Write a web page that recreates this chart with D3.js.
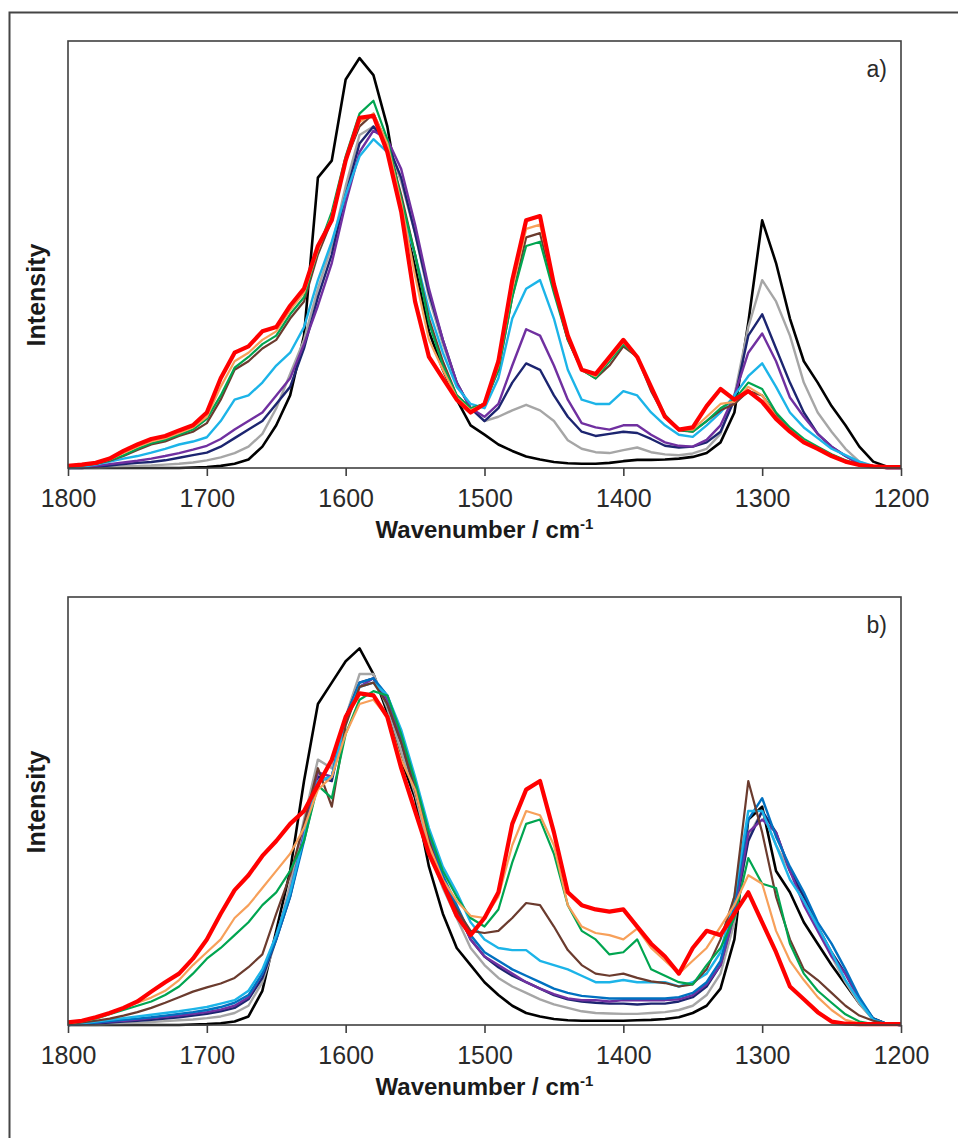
<!DOCTYPE html>
<html>
<head>
<meta charset="utf-8">
<script src="https://cdn.jsdelivr.net/npm/d3@7"></script>
<style>
  body { margin: 0; background: #fff; }
  svg { display: block; }
</style>
</head>
<body>
<script>

// wavenumber grid, 1800 -> 1200 cm-1 in 10 cm-1 steps
var wavenumbers = [1800,1790,1780,1770,1760,1750,1740,1730,1720,1710,
  1700,1690,1680,1670,1660,1650,1640,1630,1620,1610,
  1600,1590,1580,1570,1560,1550,1540,1530,1520,1510,
  1500,1490,1480,1470,1460,1450,1440,1430,1420,1410,
  1400,1390,1380,1370,1360,1350,1340,1330,1320,1310,
  1300,1290,1280,1270,1260,1250,1240,1230,1220,1210,1200];

var tickLabels = [1800, 1700, 1600, 1500, 1400, 1300, 1200];
var panelLabels = ["a)", "b)"];

// ---- panel a ----
var aBlack = [0,0,0,0,0,0,0,0,0,0.001,
  0.002,0.005,0.01,0.02,0.05,0.1,0.17,0.31,0.68,0.72,
  0.91,0.96,0.92,0.8,0.61,0.47,0.32,0.23,0.16,0.1,
  0.078,0.055,0.04,0.027,0.02,0.014,0.011,0.01,0.01,0.012,
  0.016,0.019,0.019,0.02,0.022,0.026,0.035,0.06,0.13,0.34,
  0.58,0.48,0.35,0.25,0.2,0.145,0.1,0.05,0.015,0.003,0.001];
var aGray = [0,0,0,0.002,0.004,0.005,0.006,0.008,0.01,0.013,
  0.018,0.025,0.035,0.05,0.08,0.14,0.22,0.3,0.42,0.52,
  0.66,0.78,0.8,0.76,0.67,0.55,0.4,0.29,0.2,0.14,
  0.11,0.12,0.135,0.148,0.135,0.11,0.065,0.045,0.037,0.035,
  0.042,0.048,0.037,0.032,0.03,0.034,0.045,0.08,0.17,0.33,
  0.44,0.39,0.31,0.2,0.13,0.085,0.045,0.015,0.002,0,0];
var aNavy = [0,0,0.003,0.006,0.009,0.012,0.014,0.018,0.024,0.03,
  0.036,0.05,0.07,0.09,0.11,0.15,0.19,0.28,0.4,0.5,
  0.64,0.76,0.8,0.76,0.68,0.55,0.41,0.3,0.2,0.14,
  0.11,0.14,0.2,0.245,0.23,0.17,0.12,0.085,0.075,0.08,
  0.085,0.082,0.068,0.052,0.048,0.05,0.06,0.085,0.16,0.31,
  0.36,0.28,0.2,0.13,0.08,0.05,0.028,0.01,0.003,0,0];
var aPurple = [0,0.002,0.005,0.009,0.013,0.017,0.022,0.028,0.035,0.043,
  0.052,0.068,0.09,0.11,0.13,0.17,0.21,0.29,0.38,0.48,
  0.62,0.74,0.79,0.77,0.7,0.57,0.42,0.3,0.2,0.14,
  0.12,0.15,0.24,0.325,0.31,0.24,0.16,0.105,0.095,0.09,
  0.1,0.1,0.078,0.06,0.052,0.05,0.066,0.1,0.17,0.27,
  0.315,0.25,0.165,0.12,0.08,0.05,0.028,0.01,0.003,0,0];
var aCyan = [0,0.003,0.008,0.015,0.022,0.028,0.036,0.045,0.055,0.062,
  0.072,0.11,0.16,0.17,0.2,0.24,0.27,0.33,0.44,0.53,
  0.64,0.73,0.77,0.74,0.6,0.5,0.37,0.27,0.19,0.15,
  0.14,0.21,0.35,0.42,0.44,0.35,0.23,0.16,0.15,0.15,
  0.18,0.17,0.13,0.1,0.078,0.073,0.1,0.13,0.17,0.215,
  0.245,0.19,0.13,0.095,0.07,0.045,0.03,0.015,0.005,0.001,0];
var aBrown = [0.003,0.006,0.01,0.017,0.028,0.042,0.055,0.062,0.075,0.085,
  0.105,0.16,0.23,0.25,0.28,0.3,0.35,0.39,0.5,0.58,
  0.72,0.8,0.83,0.76,0.64,0.5,0.35,0.25,0.17,0.14,
  0.15,0.23,0.4,0.54,0.55,0.42,0.3,0.23,0.21,0.24,
  0.285,0.26,0.18,0.12,0.088,0.085,0.11,0.135,0.15,0.18,
  0.17,0.125,0.09,0.065,0.048,0.03,0.017,0.007,0.003,0.001,0];
var aGreen = [0.003,0.006,0.01,0.018,0.03,0.045,0.058,0.066,0.078,0.09,
  0.115,0.17,0.235,0.26,0.29,0.31,0.36,0.4,0.51,0.6,
  0.73,0.83,0.86,0.77,0.63,0.5,0.34,0.24,0.17,0.14,
  0.15,0.23,0.4,0.52,0.53,0.41,0.3,0.23,0.21,0.25,
  0.29,0.26,0.19,0.125,0.09,0.085,0.11,0.14,0.16,0.2,
  0.185,0.13,0.095,0.068,0.05,0.032,0.018,0.008,0.003,0.001,0];
var aOrange = [0.004,0.007,0.011,0.02,0.035,0.05,0.062,0.07,0.082,0.095,
  0.12,0.19,0.25,0.27,0.3,0.32,0.37,0.41,0.51,0.59,
  0.72,0.81,0.83,0.76,0.62,0.45,0.3,0.23,0.165,0.135,
  0.15,0.24,0.42,0.56,0.57,0.43,0.31,0.23,0.215,0.255,
  0.295,0.26,0.19,0.12,0.09,0.09,0.12,0.15,0.155,0.19,
  0.17,0.12,0.088,0.063,0.046,0.03,0.016,0.007,0.003,0.001,0];
var aRed = [0.005,0.008,0.012,0.022,0.04,0.055,0.068,0.075,0.088,0.1,
  0.13,0.21,0.27,0.285,0.32,0.33,0.38,0.42,0.52,0.58,
  0.72,0.82,0.825,0.74,0.6,0.39,0.26,0.21,0.16,0.13,
  0.15,0.25,0.44,0.58,0.59,0.43,0.31,0.23,0.22,0.26,
  0.3,0.26,0.19,0.12,0.09,0.095,0.145,0.185,0.16,0.18,
  0.155,0.115,0.085,0.06,0.045,0.028,0.015,0.007,0.004,0.002,0.002];

// ---- panel b ----
var bBlack = [0,0,0,0,0,0,0,0,0,0.001,
  0.002,0.004,0.008,0.02,0.08,0.22,0.36,0.57,0.75,0.8,
  0.85,0.88,0.82,0.73,0.62,0.53,0.37,0.26,0.18,0.14,
  0.1,0.07,0.045,0.028,0.02,0.014,0.011,0.01,0.01,0.01,
  0.01,0.011,0.012,0.014,0.018,0.028,0.045,0.085,0.2,0.48,
  0.51,0.36,0.31,0.24,0.19,0.14,0.095,0.05,0.015,0.002,0];
var bGray = [0,0,0,0.002,0.004,0.005,0.007,0.009,0.011,0.013,
  0.016,0.02,0.028,0.045,0.1,0.2,0.33,0.48,0.62,0.6,
  0.72,0.82,0.82,0.74,0.64,0.54,0.41,0.32,0.25,0.18,
  0.14,0.11,0.09,0.075,0.06,0.048,0.04,0.032,0.028,0.027,
  0.026,0.026,0.028,0.03,0.035,0.045,0.07,0.12,0.24,0.44,
  0.5,0.42,0.36,0.3,0.23,0.16,0.1,0.05,0.012,0.002,0];
var bNavy = [0,0.002,0.004,0.006,0.008,0.01,0.012,0.015,0.018,0.022,
  0.026,0.032,0.04,0.06,0.11,0.2,0.3,0.44,0.58,0.57,
  0.72,0.8,0.81,0.75,0.66,0.55,0.43,0.34,0.27,0.2,
  0.16,0.135,0.115,0.1,0.085,0.07,0.06,0.055,0.052,0.05,
  0.05,0.048,0.05,0.05,0.055,0.065,0.09,0.14,0.26,0.43,
  0.5,0.45,0.36,0.3,0.23,0.17,0.12,0.06,0.015,0.002,0];
var bPurple = [0,0.003,0.005,0.008,0.01,0.013,0.016,0.019,0.022,0.026,
  0.03,0.036,0.045,0.065,0.12,0.21,0.31,0.45,0.59,0.58,
  0.72,0.79,0.81,0.76,0.67,0.56,0.44,0.34,0.27,0.2,
  0.16,0.14,0.12,0.1,0.085,0.072,0.062,0.058,0.058,0.055,
  0.058,0.058,0.058,0.058,0.06,0.07,0.095,0.14,0.26,0.45,
  0.48,0.45,0.36,0.28,0.22,0.16,0.12,0.06,0.012,0.002,0];
var bBlue = [0,0.003,0.006,0.009,0.012,0.015,0.018,0.022,0.026,0.03,
  0.035,0.042,0.052,0.07,0.12,0.2,0.3,0.43,0.57,0.58,
  0.72,0.8,0.81,0.77,0.68,0.57,0.45,0.35,0.28,0.21,
  0.17,0.15,0.13,0.115,0.1,0.085,0.075,0.068,0.065,0.062,
  0.062,0.062,0.062,0.062,0.065,0.075,0.1,0.15,0.28,0.48,
  0.53,0.44,0.37,0.31,0.24,0.19,0.13,0.065,0.015,0.002,0];
var bCyan = [0,0.004,0.008,0.012,0.016,0.02,0.024,0.028,0.032,0.037,
  0.042,0.05,0.058,0.08,0.13,0.21,0.31,0.44,0.57,0.58,
  0.71,0.79,0.8,0.77,0.69,0.58,0.46,0.37,0.31,0.24,
  0.2,0.18,0.175,0.175,0.15,0.14,0.13,0.115,0.1,0.1,
  0.105,0.1,0.1,0.1,0.09,0.1,0.12,0.17,0.3,0.5,
  0.5,0.42,0.34,0.29,0.23,0.17,0.105,0.055,0.012,0.002,0];
var bBrown = [0.002,0.006,0.01,0.015,0.022,0.03,0.04,0.052,0.065,0.078,
  0.088,0.097,0.11,0.135,0.165,0.26,0.35,0.47,0.6,0.51,
  0.7,0.79,0.8,0.75,0.66,0.55,0.43,0.33,0.27,0.22,
  0.215,0.22,0.25,0.285,0.28,0.23,0.175,0.14,0.12,0.115,
  0.12,0.11,0.102,0.098,0.09,0.095,0.13,0.2,0.3,0.57,
  0.45,0.3,0.2,0.13,0.105,0.075,0.045,0.022,0.01,0.003,0];
var bGreen = [0.003,0.008,0.015,0.025,0.035,0.045,0.055,0.07,0.09,0.12,
  0.155,0.18,0.21,0.24,0.28,0.31,0.36,0.43,0.56,0.53,
  0.68,0.76,0.78,0.77,0.68,0.57,0.45,0.36,0.3,0.25,
  0.23,0.27,0.38,0.47,0.48,0.4,0.28,0.22,0.2,0.165,
  0.17,0.2,0.13,0.115,0.1,0.095,0.14,0.18,0.25,0.39,
  0.33,0.32,0.19,0.12,0.08,0.052,0.025,0.008,0.002,0,0];
var bOrange = [0.004,0.009,0.016,0.027,0.04,0.052,0.064,0.08,0.105,0.14,
  0.17,0.2,0.25,0.28,0.32,0.36,0.4,0.46,0.55,0.58,
  0.68,0.75,0.76,0.72,0.62,0.55,0.42,0.34,0.29,0.255,
  0.25,0.3,0.42,0.5,0.49,0.42,0.28,0.23,0.215,0.21,
  0.2,0.225,0.18,0.15,0.12,0.15,0.18,0.23,0.28,0.35,
  0.33,0.22,0.15,0.105,0.065,0.035,0.012,0.004,0.001,0,0];
var bRed = [0.006,0.01,0.018,0.028,0.04,0.055,0.078,0.1,0.12,0.155,
  0.2,0.26,0.315,0.35,0.395,0.43,0.47,0.5,0.56,0.62,
  0.72,0.775,0.77,0.72,0.6,0.5,0.4,0.33,0.255,0.21,
  0.25,0.31,0.47,0.55,0.57,0.45,0.31,0.28,0.27,0.265,
  0.27,0.23,0.19,0.16,0.12,0.18,0.22,0.21,0.26,0.31,
  0.24,0.17,0.09,0.06,0.03,0.008,0.003,0.002,0.002,0.002,0.002];

var colBlack = "#000000", colGray = "#a6a6a6", colNavy = "#1c2570",
    colPurple = "#7030a0", colBlue = "#0070c0", colCyan = "#1cb4e8",
    colBrown = "#6b3b2e", colGreen = "#00a550", colOrange = "#f7a05a",
    colRed = "#ff0000";

var panelA = [
  {v: aBlack, c: colBlack, w: 2.6},
  {v: aGray, c: colGray, w: 2.4},
  {v: aNavy, c: colNavy, w: 2.4},
  {v: aPurple, c: colPurple, w: 2.4},
  {v: aCyan, c: colCyan, w: 2.4},
  {v: aBrown, c: colBrown, w: 2.2},
  {v: aGreen, c: colGreen, w: 2.2},
  {v: aOrange, c: colOrange, w: 2.2},
  {v: aRed, c: colRed, w: 4.2}
];
var panelB = [
  {v: bBlack, c: colBlack, w: 2.6},
  {v: bGray, c: colGray, w: 2.4},
  {v: bNavy, c: colNavy, w: 2.4},
  {v: bPurple, c: colPurple, w: 2.4},
  {v: bBlue, c: colBlue, w: 2.4},
  {v: bCyan, c: colCyan, w: 2.4},
  {v: bBrown, c: colBrown, w: 2.2},
  {v: bGreen, c: colGreen, w: 2.2},
  {v: bOrange, c: colOrange, w: 2.2},
  {v: bRed, c: colRed, w: 4.2}
];

var svg = d3.select("body").append("svg")
    .attr("width", 958)
    .attr("height", 1138);

// outer frame (left and top edges visible)
svg.append("path")
    .attr("d", "M9.5,1138 V12.5 H958")
    .attr("fill", "none")
    .attr("stroke", "#454545")
    .attr("stroke-width", 2);

var left = 68, right = 901;
var x = d3.scaleLinear().domain([1800, 1200]).range([left, right]);

function drawPanel(series, top, bottom, label, labelY) {
  var y = d3.scaleLinear().domain([0, 1]).range([bottom, top]);
  var g = svg.append("g");

  var line = d3.line()
      .x(function(d, i) { return x(wavenumbers[i]); })
      .y(function(d) { return y(d); });

  g.selectAll("path.spec")
      .data(series)
      .enter().append("path")
      .attr("class", "spec")
      .attr("d", function(s) { return line(s.v); })
      .attr("fill", "none")
      .attr("stroke", function(s) { return s.c; })
      .attr("stroke-width", function(s) { return s.w; })
      .attr("stroke-linejoin", "round");

  g.append("rect")
      .attr("x", left).attr("y", top)
      .attr("width", right - left).attr("height", bottom - top)
      .attr("fill", "none")
      .attr("stroke", "#404040")
      .attr("stroke-width", 1.6);

  var axis = d3.axisBottom(x)
      .tickValues(tickLabels)
      .tickSize(8)
      .tickSizeOuter(0)
      .tickFormat(d3.format("d"));

  var ax = g.append("g")
      .attr("transform", "translate(0," + bottom + ")")
      .call(axis);
  ax.select(".domain").remove();
  ax.selectAll(".tick line").attr("stroke", "#404040").attr("stroke-width", 1.6);
  ax.selectAll(".tick text")
      .attr("font-family", "'Liberation Sans', Arial, sans-serif")
      .attr("font-size", "25px")
      .attr("fill", "#2a2a2a")
      .attr("dy", null)
      .attr("y", 39);

  var title = g.append("text")
      .attr("x", (left + right) / 2)
      .attr("y", bottom + 70)
      .attr("text-anchor", "middle")
      .attr("font-family", "'Liberation Sans', Arial, sans-serif")
      .attr("font-weight", "bold")
      .attr("font-size", "24px")
      .attr("fill", "#1a1a1a");
  title.append("tspan").text("Wavenumber / cm");
  title.append("tspan").attr("dy", -9).attr("font-size", "15px").text("-1");

  g.append("text")
      .attr("transform", "translate(45," + labelY + ") rotate(-90)")
      .attr("text-anchor", "middle")
      .attr("font-family", "'Liberation Sans', Arial, sans-serif")
      .attr("font-weight", "bold")
      .attr("font-size", "25px")
      .attr("fill", "#1a1a1a")
      .text("Intensity");

  g.append("text")
      .attr("x", right - 14)
      .attr("y", top + 36)
      .attr("text-anchor", "end")
      .attr("font-family", "'Liberation Sans', Arial, sans-serif")
      .attr("font-size", "23px")
      .attr("fill", "#2a2a2a")
      .text(label);
}

drawPanel(panelA, 41, 468, panelLabels[0], 295);
drawPanel(panelB, 597, 1025, panelLabels[1], 802);

</script>
</body>
</html>
